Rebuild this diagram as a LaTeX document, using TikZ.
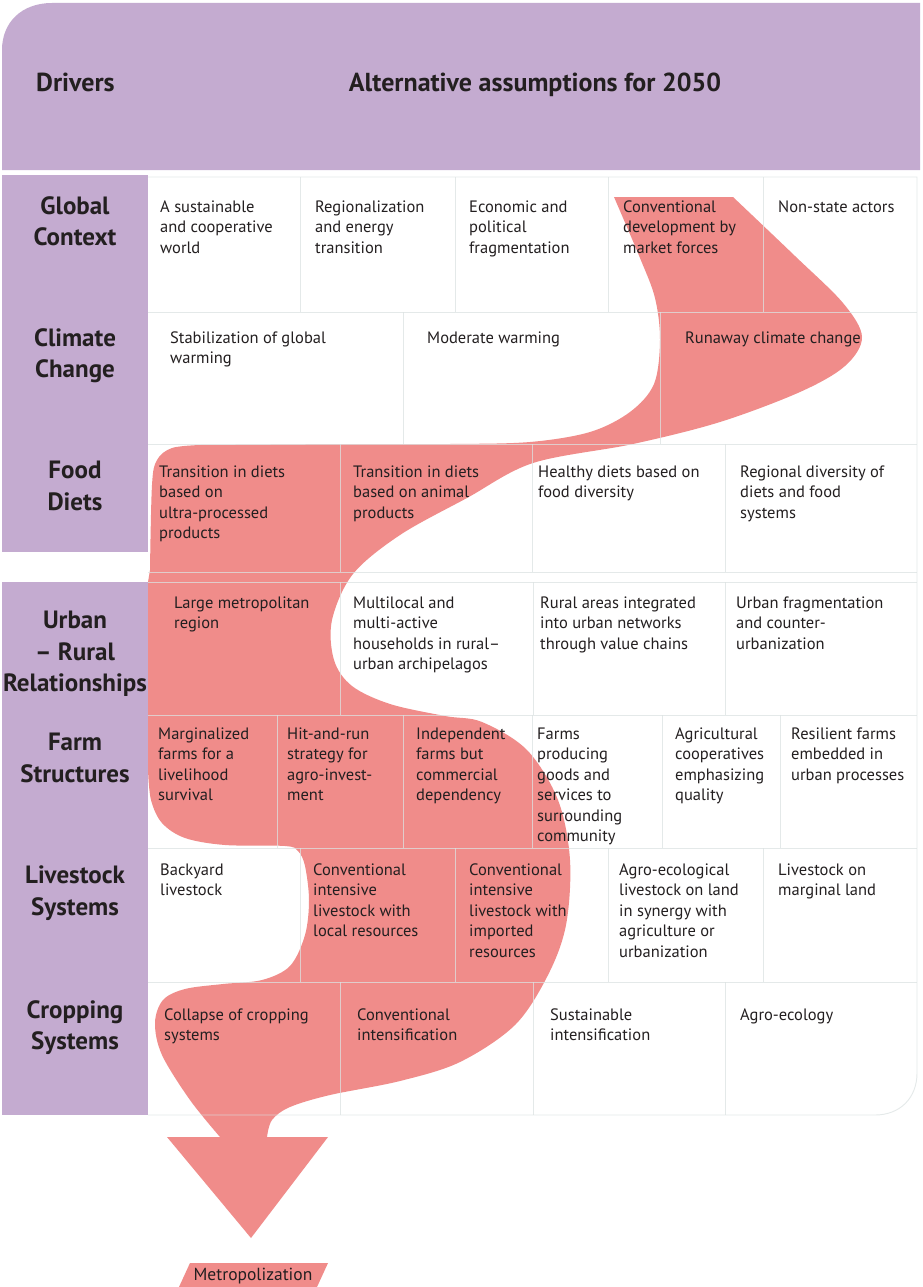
\documentclass[tikz,border=0pt]{standalone}
\usepackage{fontspec}
\setmainfont{PT Sans}
\definecolor{purp}{HTML}{C4ABD0}
\definecolor{rib}{HTML}{F08C8A}
\definecolor{gridc}{HTML}{DCE2E2}
\definecolor{ink}{HTML}{231F20}
\begin{document}
\begin{tikzpicture}[x=1pt,y=-1pt,
  cell/.style={anchor=north west, inner sep=0pt, align=left, yshift=14.35pt, text=ink,
    font=\fontsize{16.5}{20.5}\selectfont},
  lab/.style={anchor=north, inner sep=0pt, align=center, yshift=22.05pt, text=ink,
    font=\fontsize{25}{31.5}\selectfont\bfseries},
  head/.style={inner sep=0pt, text=ink, font=\fontsize{26}{30}\selectfont\bfseries},
  gl/.style={draw=gridc, line width=0.9pt, opacity=0.75}]
\useasboundingbox (0,0) rectangle (922,1287);
\fill[white] (0,0) rectangle (922,1287);
% header
\fill[purp] (2,170) -- (2,50) .. controls (2,22) and (22,3) .. (52,3) -- (920,3) -- (920,170) -- cycle;
\node[head, anchor=base west] (drivers) at (36,92) {Drivers};
\node[head, anchor=base] (alt) at (535,92) {Alternative assumptions for 2050};
% left column
\fill[purp] (2,175) rectangle (148,552);
\fill[purp] (2,582) rectangle (148,1115);
% ribbon
\fill[rib] (614,197) -- (733,197)
  -- plot[smooth, tension=0.55] coordinates {(733,197) (795,256) (843,303) (862,337) (845,366) (800,392) (720,422) (633,444) (533,463) (467,498) (400,535) (353,574) (332,620) (334,660) (352,686) (390,704) (445,716) (482,722) (527,750) (558,800) (570,860) (566,925) (548,975) (515,1025) (460,1062) (400,1081) (330,1095) (290,1107) (272,1120) (267,1137)}
  -- (220,1137)
  -- plot[smooth, tension=0.55] coordinates {(220,1137) (190,1100) (162,1055) (155,1023) (163,1000) (185,989) (223,984) (262,980) (290,966) (305,935) (309,900) (305,866) (298,851) (285,846) (225,845) (185,838) (162,823) (151,800) (148,770)}
  -- (148,582) -- (150,570)
  -- plot[smooth, tension=0.55] coordinates {(150,570) (152,485) (157,460) (172,448) (200,445)}
  -- (340,444)
  -- plot[smooth, tension=0.55] coordinates {(340,444) (450,444) (530,442) (590,432) (630,412) (654,384) (660,340) (655,298) (640,258) (614,197)}
  -- cycle;
\fill[rib] (167,1137) -- (328,1137) -- (251,1238) -- cycle;
% grid
\draw[gl] (148,177) -- (917,177) -- (917,1073) .. controls (917,1098) and (900,1115) .. (875,1115) -- (148,1115);
\draw[gl] (148,312) -- (917,312);
\draw[gl] (148,444) -- (917,444);
\draw[gl] (148,572) -- (917,572);
\draw[gl] (148,582) -- (917,582);
\draw[gl] (148,715) -- (917,715);
\draw[gl] (148,848) -- (917,848);
\draw[gl] (148,982) -- (917,982);
\foreach \x in {300,455,608,763} \draw[gl] (\x,177) -- (\x,312);
\foreach \x in {403,660} \draw[gl] (\x,312) -- (\x,444);
\foreach \x in {340,532,725} \draw[gl] (\x,444) -- (\x,572);
\foreach \x in {340,533,725} \draw[gl] (\x,582) -- (\x,715);
\foreach \x in {277,403,532,662,780} \draw[gl] (\x,715) -- (\x,848);
\foreach \x in {300,455,608,763} \draw[gl] (\x,848) -- (\x,982);
\foreach \x in {340,533,725} \draw[gl] (\x,982) -- (\x,1115);
% labels
\node[lab] (lglobal) at (75,218) {Global\\Context};
\node[lab] (lclimate) at (75,350) {Climate\\Change};
\node[lab] (lfood) at (75,483) {Food\\Diets};
\node[lab] (lurban) at (75,633) {Urban\\– Rural\\Relationships};
\node[lab] (lfarm) at (75,755) {Farm\\Structures};
\node[lab] (llive) at (75,888) {Livestock\\Systems};
\node[lab] (lcrop) at (75,1022) {Cropping\\Systems};
% row 1
\node[cell] (g1) at (160,212) {\strut A sustainable\\and cooperative\\world};
\node[cell] (g2) at (315,212) {\strut Regionalization\\and energy\\transition};
\node[cell] (g3) at (469,212) {\strut Economic and\\political\\fragmentation};
\node[cell] (g4) at (623,212) {\strut Conventional\\development by\\market forces};
\node[cell] (g5) at (778,212) {\strut Non-state actors};
% row 2
\node[cell] (c1) at (170,343) {\strut Stabilization of global\\warming};
\node[cell] (c2) at (427,343) {\strut Moderate warming};
\node[cell] (c3) at (685,343) {\strut Runaway climate change};
% row 3
\node[cell] (f1) at (159,477) {\strut Transition in diets\\based on\\ultra-processed\\products};
\node[cell] (f2) at (353,477) {\strut Transition in diets\\based on animal\\products};
\node[cell] (f3) at (538,477) {\strut Healthy diets based on\\food diversity};
\node[cell] (f4) at (740,477) {\strut Regional diversity of\\diets and food\\systems};
% row 4
\node[cell] (u1) at (174,608) {\strut Large metropolitan\\region};
\node[cell] (u2) at (353,608) {\strut Multilocal and\\multi-active\\households in rural–\\urban archipelagos};
\node[cell] (u3) at (540,608) {\strut Rural areas integrated\\into urban networks\\through value chains};
\node[cell] (u4) at (736,608) {\strut Urban fragmentation\\and counter-\\urbanization};
% row 5
\node[cell] (s1) at (158,739) {\strut Marginalized\\farms for a\\livelihood\\survival};
\node[cell] (s2) at (287,739) {\strut Hit-and-run\\strategy for\\agro-invest-\\ment};
\node[cell] (s3) at (416,739) {\strut Independent\\farms but\\commercial\\dependency};
\node[cell] (s4) at (537,739) {\strut Farms\\producing\\goods and\\services to\\surrounding\\community};
\node[cell] (s5) at (675,739) {\strut Agricultural\\cooperatives\\emphasizing\\quality};
\node[cell] (s6) at (791,739) {\strut Resilient farms\\embedded in\\urban processes};
% row 6
\node[cell] (l1) at (160,875) {\strut Backyard\\livestock};
\node[cell] (l2) at (313,875) {\strut Conventional\\intensive\\livestock with\\local resources};
\node[cell] (l3) at (469,875) {\strut Conventional\\intensive\\livestock with\\imported\\resources};
\node[cell] (l4) at (619,875) {\strut Agro-ecological\\livestock on land\\in synergy with\\agriculture or\\urbanization};
\node[cell] (l5) at (778,875) {\strut Livestock on\\marginal land};
% row 7
\node[cell] (p1) at (164,1020) {\strut Collapse of cropping\\systems};
\node[cell] (p2) at (357,1020) {\strut Conventional\\intensification};
\node[cell] (p3) at (550,1020) {\strut Sustainable\\intensification};
\node[cell] (p4) at (740,1020) {\strut Agro-ecology};
% outcome
\fill[rib] (190,1263) -- (328,1263) -- (317,1287) -- (179,1287) -- cycle;
\node[inner sep=0pt, text=ink, font=\fontsize{17.5}{20}\selectfont, anchor=base] (metro) at (253,1280) {Metropolization};
\end{tikzpicture}
\end{document}
